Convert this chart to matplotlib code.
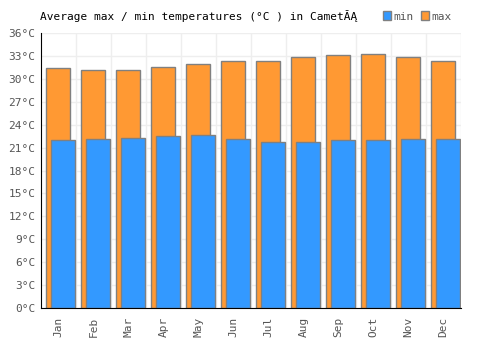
import matplotlib
matplotlib.use('Agg')
import matplotlib.pyplot as plt
import numpy as np

months = ['Jan', 'Feb', 'Mar', 'Apr', 'May', 'Jun',
          'Jul', 'Aug', 'Sep', 'Oct', 'Nov', 'Dec']
t_max = [31.4, 31.1, 31.1, 31.5, 32.0, 32.3, 32.4, 32.8, 33.1, 33.2, 32.9, 32.4]
t_min = [22.0, 22.1, 22.2, 22.5, 22.6, 22.1, 21.7, 21.7, 22.0, 22.0, 22.1, 22.1]
y_ticks = [0, 3, 6, 9, 12, 15, 18, 21, 24, 27, 30, 33, 36]

plt.rcParams['font.family'] = 'DejaVu Sans Mono'

fig = plt.figure(figsize=(5, 3.5), dpi=100)
ax = fig.add_axes([0.082, 0.12, 0.84, 0.7857])

x = np.arange(len(months))
w = 0.686
ax.bar(x + 0.143, t_max, width=w, align='edge', color='#FF9933',
       edgecolor='#808080', linewidth=1, label='max', zorder=3)
ax.bar(x + 0.286, t_min, width=w, align='edge', color='#3399FF',
       edgecolor='#808080', linewidth=1, label='min', zorder=4)

ax.set_xlim(0, 12)
ax.set_ylim(0, 36)
ax.set_yticks(y_ticks)
ax.set_yticklabels([f'{v}°C' for v in y_ticks])
ax.set_xticks(x + 0.5)
ax.set_xticklabels(months, rotation=90)
ax.set_xticks(np.arange(1, 13), minor=True)
ax.tick_params(axis='both', which='both', length=0, colors='#555555', labelsize=8)
ax.tick_params(axis='x', pad=6)
ax.tick_params(axis='y', pad=4)

ax.grid(True, axis='y', which='major', color='#eeeeee', linewidth=1, zorder=0)
ax.grid(True, axis='x', which='minor', color='#eeeeee', linewidth=1, zorder=0)

for s in ['top', 'right']:
    ax.spines[s].set_visible(False)
ax.spines['left'].set_color('black')
ax.spines['bottom'].set_color('black')
ax.spines['left'].set_zorder(5)
ax.spines['bottom'].set_zorder(5)

fig.text(0.08, 0.953, 'Average max / min temperatures (°C ) in Camet\u0102\u0104',
         fontsize=8, color='black', va='center', ha='left')

handles, labels = ax.get_legend_handles_labels()
fig.legend([handles[1], handles[0]], ['min', 'max'], loc='center right',
           bbox_to_anchor=(0.915, 0.953), ncol=2, frameon=False, fontsize=8,
           handlelength=0.8, handleheight=0.8, handletextpad=0.2,
           columnspacing=0.6, labelcolor='#555555', borderpad=0)

fig.savefig('out.png')
